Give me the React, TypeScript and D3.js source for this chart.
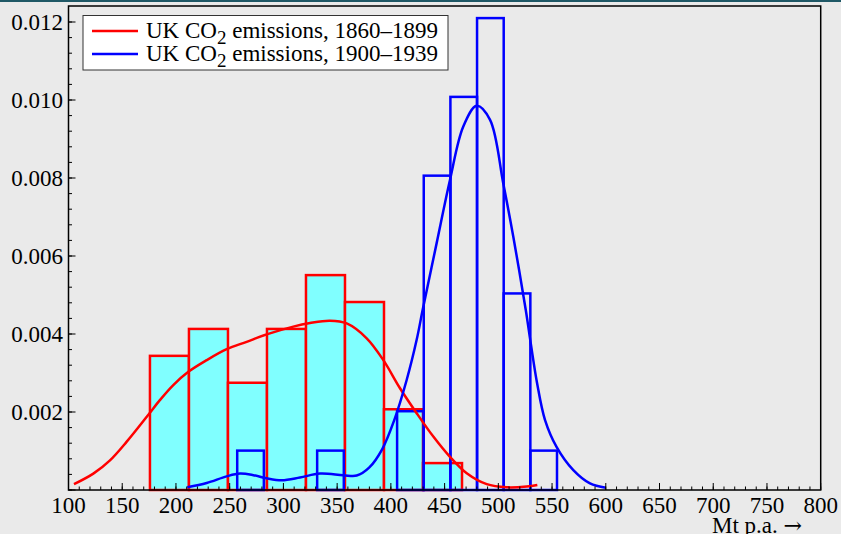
import React from "react";
import * as d3 from "d3";

const width = 841;
const height = 534;
const margin = { top: 6, right: 20.3, bottom: 44, left: 68.5 };

// histogram 1860-1899: bin start, bin width, density per bin
const redStart = 175.8;
const redWidth = 36.3;
const redDensity = [0.00344, 0.00413, 0.00275, 0.00413, 0.00551, 0.00482, 0.00207, 0.00069];

// histogram 1900-1939
const blueStart = 207.4;
const blueWidth = 24.8;
const blueDensity = [0, 0, 0.00101, 0, 0, 0.00101, 0, 0, 0.00202, 0.00806, 0.01008, 0.0121, 0.00504, 0.00101];

// smoothed density curves: [Mt, density]
const redCurve: [number, number][] = [
  [105.1, 0.00015], [123.1, 0.00042], [138.6, 0.00076], [154.2, 0.00124], [174.3, 0.00193],
  [185.2, 0.00231], [197.5, 0.00269], [211.5, 0.00303], [228.6, 0.00333], [247.2, 0.00361],
  [265.8, 0.0038], [284.4, 0.00399], [309.2, 0.00419], [324.7, 0.00428], [343.3, 0.00434],
  [358.9, 0.00427], [377.5, 0.00389], [393, 0.00333], [408.5, 0.00261], [424, 0.00197],
  [439.5, 0.00137], [455, 0.00085], [470.6, 0.00043], [489.2, 0.00015], [507.8, 0.00007],
  [526.4, 0.00009], [536.3, 0.00013],
];

const blueCurve: [number, number][] = [
  [210.6, 0.00007], [228.6, 0.00018], [247.2, 0.00035], [259.6, 0.00042], [272, 0.00038],
  [284.4, 0.0003], [298.4, 0.00025], [315.4, 0.00032], [334, 0.00042], [355.7, 0.00038],
  [368.2, 0.00037], [380, 0.00058], [392, 0.00105], [403, 0.00178], [414.7, 0.00282],
  [424, 0.00385], [429.6, 0.00462], [442.6, 0.00633], [455, 0.00795], [467.4, 0.00932],
  [479.9, 0.00985], [492.3, 0.00949], [504.6, 0.00786], [513.9, 0.0065], [525.5, 0.00462],
  [530.4, 0.00372], [536, 0.00275], [543.4, 0.0018], [554.3, 0.0011], [569.8, 0.00051],
  [585.3, 0.00017], [600, 0.00006],
];

const xMajor = d3.range(100, 801, 50);
const xMinor = d3.range(100, 801, 10);
const yMajor = [0, 0.002, 0.004, 0.006, 0.008, 0.01, 0.012];
const yMinor = d3.range(0, 0.0124, 0.0004);

const legendItems = [
  { label: "1860–1899", color: "#ff0000" },
  { label: "1900–1939", color: "#0000ff" },
];

const font = "'Liberation Serif', 'Times New Roman', serif";

export default function App() {
  const x = d3.scaleLinear().domain([100, 800]).range([margin.left, width - margin.right]);
  const y = d3.scaleLinear().domain([0, 0.012]).range([height - margin.bottom, 22]);
  const top = margin.top;
  const bottom = height - margin.bottom;

  const line = d3
    .line<[number, number]>()
    .x((d) => x(d[0]))
    .y((d) => y(d[1]))
    .curve(d3.curveCatmullRom.alpha(0.5));

  return (
    <svg
      width={width}
      height={height}
      style={{ position: "absolute", left: 0, top: 0, display: "block" }}
      fontFamily={font}
    >
      <rect width={width} height={height} fill="#eaeaea" />
      <rect width={width} height={2} fill="#1f5866" />

      {/* red histogram, filled */}
      {redDensity.map((v, i) => {
        const x0 = redStart + i * redWidth;
        return (
          <rect
            key={"r" + i}
            x={x(x0)}
            y={y(v)}
            width={x(x0 + redWidth) - x(x0)}
            height={bottom - y(v)}
            fill="#80ffff"
            stroke="#ff0000"
            strokeWidth={2.5}
          />
        );
      })}

      {/* blue histogram, outline */}
      {blueDensity.map((v, i) => {
        if (v === 0) return null;
        const x0 = blueStart + i * blueWidth;
        return (
          <rect
            key={"b" + i}
            x={x(x0)}
            y={y(v)}
            width={x(x0 + blueWidth) - x(x0)}
            height={bottom - y(v)}
            fill="none"
            stroke="#0000ff"
            strokeWidth={2.5}
          />
        );
      })}

      <path d={line(redCurve) ?? ""} fill="none" stroke="#ff0000" strokeWidth={2.5} />
      <path d={line(blueCurve) ?? ""} fill="none" stroke="#0000ff" strokeWidth={2.5} />

      {/* frame */}
      <rect
        x={margin.left}
        y={top}
        width={width - margin.right - margin.left}
        height={bottom - top}
        fill="none"
        stroke="#000"
        strokeWidth={1.5}
      />

      {/* x ticks */}
      {xMinor.map((t) => (
        <line key={"xm" + t} x1={x(t)} x2={x(t)} y1={bottom} y2={bottom - 3.5} stroke="#000" strokeWidth={1} />
      ))}
      {xMajor.map((t) => (
        <g key={"xM" + t}>
          <line x1={x(t)} x2={x(t)} y1={bottom} y2={bottom - 7} stroke="#000" strokeWidth={1} />
          <text x={x(t)} y={513} fontSize={23} textAnchor="middle" fill="#000">
            {t}
          </text>
        </g>
      ))}

      {/* y ticks */}
      {yMinor.map((t, i) => (
        <line key={"ym" + i} x1={margin.left} x2={margin.left + 3.5} y1={y(t)} y2={y(t)} stroke="#000" strokeWidth={1} />
      ))}
      {yMajor.map((t) => (
        <g key={"yM" + t}>
          <line x1={margin.left} x2={margin.left + 7} y1={y(t)} y2={y(t)} stroke="#000" strokeWidth={1} />
          {t > 0 && (
            <text x={63} y={y(t) + 8} fontSize={23} textAnchor="end" fill="#000">
              {d3.format(".3f")(t)}
            </text>
          )}
        </g>
      ))}

      <text x={802} y={533} fontSize={23} textAnchor="end" fill="#000">
        Mt p.a. <tspan fontFamily="'DejaVu Serif', serif" fontSize={22}>→</tspan>
      </text>

      {/* legend */}
      <rect x={83} y={15.5} width={365} height={54.5} fill="#fff" stroke="#333" strokeWidth={1} />
      {legendItems.map((item, i) => (
        <g key={item.label}>
          <line x1={92} x2={138} y1={31 + i * 23} y2={31 + i * 23} stroke={item.color} strokeWidth={2.5} />
          <text x={146} y={38 + i * 23} fontSize={23} fill="#000">
            UK CO
            <tspan fontSize={19} dy={6}>2</tspan>
            <tspan dy={-6}> emissions, {item.label}</tspan>
          </text>
        </g>
      ))}
    </svg>
  );
}
